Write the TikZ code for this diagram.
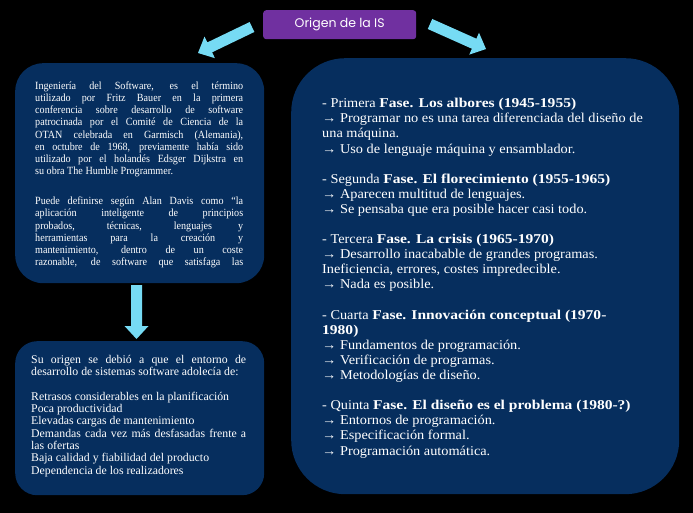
\documentclass[tikz,border=0pt]{standalone}
\usepackage{fontspec}
\setmainfont{Liberation Serif}
\newfontfamily\bigserif[FakeStretch=1.06,BoldFeatures={FakeStretch=1.15}]{Liberation Serif}
\newfontfamily\narrowserif[FakeStretch=0.92]{Liberation Serif}
\newfontfamily\titlefont{Poppins}
\usetikzlibrary{calc}
\definecolor{navy}{RGB}{6,46,94}
\definecolor{cyanarrow}{RGB}{118,219,244}
\definecolor{purp}{RGB}{112,48,160}
\newcommand\jl[2]{\makebox[#1][s]{#2}}
\newcommand\blockarrow[2]{%
  \coordinate (#1h) at ($(#2)!13pt!(#1)$);
  \fill[cyanarrow] ($(#1)!5.5pt!90:(#2)$) -- ($(#1h)!5.5pt!-90:(#1)$)
    -- ($(#1h)!12pt!-90:(#1)$) -- (#2) -- ($(#1h)!12pt!90:(#1)$)
    -- ($(#1h)!5.5pt!90:(#1)$) -- ($(#1)!5.5pt!-90:(#2)$) -- cycle;}
\begin{document}
\begin{tikzpicture}[x=1pt,y=-1pt,
  panel/.style={fill=navy, draw=none, inner sep=0pt, anchor=north west},
  titlebox/.style={fill=purp, draw=none, rounded corners=3pt, inner sep=0pt,
    minimum width=153pt, minimum height=29pt, anchor=north west, text=white,
    font=\titlefont\fontsize{12.5}{14}\selectfont},
  smalltext/.style={anchor=north west, inner sep=0pt, align=left, text=white,
    font=\narrowserif\fontsize{11}{12.2}\selectfont},
  listtext/.style={anchor=north west, inner sep=0pt, align=left, text=white,
    font=\fontsize{11.8}{12.3}\selectfont},
  bigtext/.style={anchor=north west, inner sep=0pt, align=left, text=white,
    font=\bigserif\fontsize{13.5}{15.1}\selectfont}]
\fill[black] (0,0) rectangle (693,513);
\useasboundingbox (0,0) rectangle (693,513);

\node[titlebox] (title) at (263,10) {Origen de la IS};

\node[panel, rounded corners=28pt, minimum width=249pt, minimum height=220pt] (b1) at (15,63) {};
\node[panel, rounded corners=22pt, minimum width=249pt, minimum height=154pt] (b2) at (15,341) {};
\node[panel, rounded corners=54pt, minimum width=388pt, minimum height=436pt] (b3) at (291,58) {};

\coordinate (la) at (252,27);
\coordinate (lb) at (198,53);
\coordinate (ra) at (430,24);
\coordinate (rb) at (486,49);
\coordinate (da) at (136.5,285);
\coordinate (db) at (136.5,339);
\blockarrow{la}{lb}
\blockarrow{ra}{rb}
\blockarrow{da}{db}

\node[smalltext] (t1) at (35,80.5) {%
\strut\jl{208pt}{Ingeniería del Software, es el término}\\
\jl{208pt}{utilizado por Fritz Bauer en la primera}\\
\jl{208pt}{conferencia sobre desarrollo de software}\\
\jl{208pt}{patrocinada por el Comité de Ciencia de la}\\
\jl{208pt}{OTAN celebrada en Garmisch (Alemania),}\\
\jl{208pt}{en octubre de 1968, previamente había sido}\\
\jl{208pt}{utilizado por el holandés Edsger Dijkstra en}\\
su obra The Humble Programmer.\\[17.8pt]
\jl{208pt}{Puede definirse según Alan Davis como “la}\\
\jl{208pt}{aplicación inteligente de principios}\\
\jl{208pt}{probados, técnicas, lenguajes y}\\
\jl{208pt}{herramientas para la creación y}\\
\jl{208pt}{mantenimiento, dentro de un coste}\\
\jl{208pt}{razonable, de software que satisfaga las}};

\node[listtext] (t2) at (31,354.5) {%
\strut\jl{215pt}{Su origen se debió a que el entorno de}\\
desarrollo de sistemas software adolecía de:\\[12.3pt]
Retrasos considerables en la planificación\\
Poca productividad\\
Elevadas cargas de mantenimiento\\
\jl{215pt}{Demandas cada vez más desfasadas frente a}\\
las ofertas\\
Baja calidad y fiabilidad del producto\\
Dependencia de los realizadores};

\node[bigtext] (t3) at (322,97) {%
\strut- Primera \textbf{Fase. Los albores (1945-1955)}\\
→ Programar no es una tarea diferenciada del diseño de\\
una máquina.\\
→ Uso de lenguaje máquina y ensamblador.\\[15.1pt]
- Segunda \textbf{Fase. El florecimiento (1955-1965)}\\
→ Aparecen multitud de lenguajes.\\
→ Se pensaba que era posible hacer casi todo.\\[15.1pt]
- Tercera \textbf{Fase. La crisis (1965-1970)}\\
→ Desarrollo inacabable de grandes programas.\\
Ineficiencia, errores, costes impredecible.\\
→ Nada es posible.\\[15.1pt]
- Cuarta \textbf{Fase. Innovación conceptual (1970-}\\
\textbf{1980)}\\
→ Fundamentos de programación.\\
→ Verificación de programas.\\
→ Metodologías de diseño.\\[15.1pt]
- Quinta \textbf{Fase. El diseño es el problema (1980-?)}\\
→ Entornos de programación.\\
→ Especificación formal.\\
→ Programación automática.};
\end{tikzpicture}
\end{document}
